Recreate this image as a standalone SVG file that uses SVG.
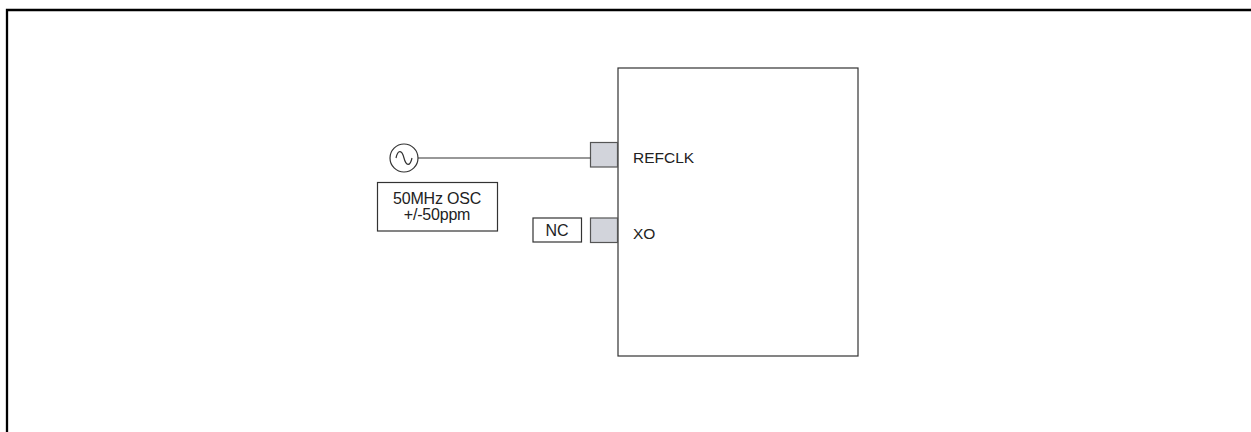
<svg xmlns="http://www.w3.org/2000/svg" width="1251" height="432" viewBox="0 0 1251 432">
<style>
.t{font-family:"Liberation Sans",Arial,sans-serif;fill:#222;font-size:16px}
.p{font-size:15.5px}
.box{fill:#fff;stroke:#333;stroke-width:1.2}
.pin{fill:#d2d4db;stroke:#555;stroke-width:1.2}
.wire{fill:none;stroke:#333;stroke-width:1.2}
</style>
<rect width="1251" height="432" fill="#fff"/>
<path d="M7,432 V10 H1251" fill="none" stroke="#000" stroke-width="2.3"/>
<g id="chip">
<rect class="box" x="618" y="68" width="240" height="288"/>
<rect class="pin" x="590.5" y="142.5" width="27" height="24.5"/>
<text class="t p" x="633" y="163">REFCLK</text>
<rect class="pin" x="590.5" y="218" width="27" height="24.5"/>
<text class="t p" x="633" y="238.5">XO</text>
</g>
<g id="osc">
<circle class="wire" cx="404" cy="158" r="14"/>
<path class="wire" d="M396,158 C398,149 402,150 404,158 C406,166 410,167 412,158"/>
<rect class="box" x="377.5" y="182.5" width="120" height="48.5"/>
<text class="t" x="437" y="203.5" text-anchor="middle" letter-spacing="-0.2">50MHz OSC</text>
<text class="t" x="437" y="220" text-anchor="middle" letter-spacing="-0.2">+/-50ppm</text>
</g>
<g id="nc">
<rect class="box" x="533" y="218" width="48.5" height="24"/>
<text class="t" x="557" y="235.5" text-anchor="middle">NC</text>
</g>
<g id="connectors">
<line class="wire" x1="418" y1="158" x2="590.5" y2="158"/>
</g>
</svg>
